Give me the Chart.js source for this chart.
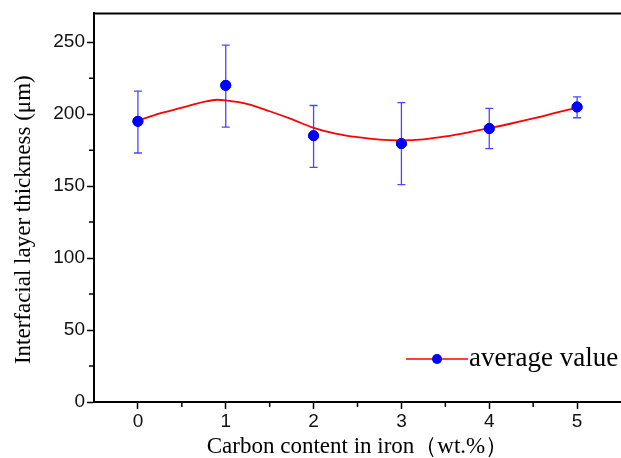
<!DOCTYPE html>
<html>
<head>
<meta charset="utf-8">
<script src="https://cdn.jsdelivr.net/npm/chart.js@4"></script>
<style>
  html, body { margin: 0; padding: 0; background: #fff; }
  #wrap { width: 621px; height: 458px; }
</style>
</head>
<body>
<div id="wrap"><canvas id="chart" width="621" height="458"></canvas></div>
<script>
// ------------------- Data -------------------
const carbon = [0, 1, 2, 3, 4, 5];
const thickness = [195, 220, 185, 179.5, 190, 205];
const errLow = [173, 191, 163, 151, 176, 197.5];
const errHigh = [216, 248, 206, 208, 204, 212];

// fitted curve
const fitX = [0, 0.25, 0.5, 0.75, 0.9, 1, 1.25, 1.5, 1.75, 2, 2.25, 2.5, 2.75, 3, 3.25, 3.5, 3.75, 4, 4.25, 4.5, 4.75, 5];
const fitY = [195.5, 200.5, 204.5, 208.5, 210, 209.5, 207, 202, 196.5, 190.5, 186.5, 184, 182.3, 181.8, 182.5, 184.5, 187.2, 190.3, 193.5, 197, 200.8, 204.5];

const xTicks = [0, 1, 2, 3, 4, 5];
const xMinor = [0.5, 1.5, 2.5, 3.5, 4.5];
const yTicks = [0, 50, 100, 150, 200, 250];
const yMinor = [25, 75, 125, 175, 225];

const seriesLabel = 'average value';
const xTitle = 'Carbon content in iron（wt.%）';
const yTitle = 'Interfacial layer thickness (μm)';

const BLUE = '#0000ff';
const RED = '#ff0000';
const SERIF = '"Liberation Serif", "Times New Roman", serif';

// ------------------- Plugins -------------------
const errorBars = {
    id: 'errorBars',
    afterDatasetsDraw(chart) {
        const { ctx, scales: { x, y } } = chart;
        ctx.save();
        ctx.strokeStyle = 'rgba(40,40,255,0.85)';
        ctx.lineWidth = 1.3;
        carbon.forEach((c, i) => {
            const px = x.getPixelForValue(c);
            const top = y.getPixelForValue(errHigh[i]);
            const bot = y.getPixelForValue(errLow[i]);
            ctx.beginPath();
            ctx.moveTo(px, top); ctx.lineTo(px, bot);
            ctx.moveTo(px - 4, top); ctx.lineTo(px + 4, top);
            ctx.moveTo(px - 4, bot); ctx.lineTo(px + 4, bot);
            ctx.stroke();
        });
        // redraw points above the bars
        const meta = chart.getDatasetMeta(1);
        meta.data.forEach(pt => pt.draw(ctx));
        ctx.restore();
    }
};

const frame = {
    id: 'frame',
    afterDraw(chart) {
        const { ctx, chartArea: a, scales: { x, y } } = chart;
        ctx.save();
        ctx.strokeStyle = '#000';
        ctx.lineWidth = 2;
        ctx.beginPath();
        ctx.moveTo(a.left - 1, a.top);
        ctx.lineTo(a.right, a.top);
        ctx.stroke();
        // minor ticks
        ctx.lineWidth = 1.5;
        ctx.beginPath();
        yMinor.forEach(v => {
            const py = y.getPixelForValue(v);
            ctx.moveTo(a.left - 5, py); ctx.lineTo(a.left, py);
        });
        xMinor.forEach(v => {
            const px = x.getPixelForValue(v);
            ctx.moveTo(px, a.bottom); ctx.lineTo(px, a.bottom + 5);
        });
        ctx.stroke();

        // y title (sits a bit below the axis centre in the original)
        ctx.fillStyle = '#000';
        ctx.font = '23px ' + SERIF;
        ctx.textAlign = 'center';
        ctx.textBaseline = 'middle';
        ctx.save();
        ctx.translate(24, (a.top + a.bottom) / 2 + 12);
        ctx.rotate(-Math.PI / 2);
        ctx.fillText(yTitle, 0, 0);
        ctx.restore();

        // legend
        const lx = a.right - 215, ly = a.bottom - 43;
        ctx.strokeStyle = RED;
        ctx.lineWidth = 1.5;
        ctx.beginPath();
        ctx.moveTo(lx, ly); ctx.lineTo(lx + 62, ly);
        ctx.stroke();
        ctx.fillStyle = BLUE;
        ctx.beginPath();
        ctx.arc(lx + 31, ly, 5, 0, Math.PI * 2);
        ctx.fill();
        ctx.fillStyle = '#000';
        ctx.font = '27px ' + SERIF;
        ctx.textAlign = 'left';
        ctx.fillText(seriesLabel, lx + 63, ly);
        ctx.restore();
    }
};

// ------------------- Chart -------------------
const tickFont = { family: '"Liberation Sans", Arial, sans-serif', size: 19 };
const titleFont = { family: SERIF, size: 23 };

new Chart(document.getElementById('chart'), {
    type: 'scatter',
    data: {
        datasets: [
            {
                type: 'line',
                label: 'fit',
                data: fitX.map((v, i) => ({ x: v, y: fitY[i] })),
                borderColor: RED,
                borderWidth: 1.8,
                pointRadius: 0,
                tension: 0.4,
                cubicInterpolationMode: 'monotone',
                fill: false
            },
            {
                label: seriesLabel,
                data: carbon.map((v, i) => ({ x: v, y: thickness[i] })),
                backgroundColor: BLUE,
                borderColor: BLUE,
                pointRadius: 5,
                pointHoverRadius: 5
            }
        ]
    },
    options: {
        responsive: false,
        animation: false,
        layout: { autoPadding: false, padding: { top: 13, right: 0, left: 0, bottom: 0 } },
        plugins: {
            legend: { display: false },
            tooltip: { enabled: false }
        },
        scales: {
            x: {
                type: 'linear',
                min: -0.5,
                max: 5.5,
                afterBuildTicks: s => { s.ticks = xTicks.map(v => ({ value: v })); },
                afterFit: s => { s.height = 56; },
                border: { color: '#000', width: 2 },
                grid: { drawOnChartArea: false, tickLength: 7, tickColor: '#000', tickWidth: 1.5 },
                ticks: { color: '#111', font: tickFont, padding: 1, maxRotation: 0 },
                title: { display: true, text: xTitle, color: '#000', font: titleFont, padding: { top: 0, bottom: -3 } }
            },
            y: {
                min: 0,
                max: 270,
                afterBuildTicks: s => { s.ticks = yTicks.map(v => ({ value: v })); },
                afterFit: s => { s.width = 94; },
                border: { color: '#000', width: 2 },
                grid: { drawOnChartArea: false, tickLength: 7, tickColor: '#000', tickWidth: 1.5 },
                ticks: { color: '#111', font: tickFont, padding: 2 }
            }
        }
    },
    plugins: [errorBars, frame]
});
</script>
</body>
</html>
